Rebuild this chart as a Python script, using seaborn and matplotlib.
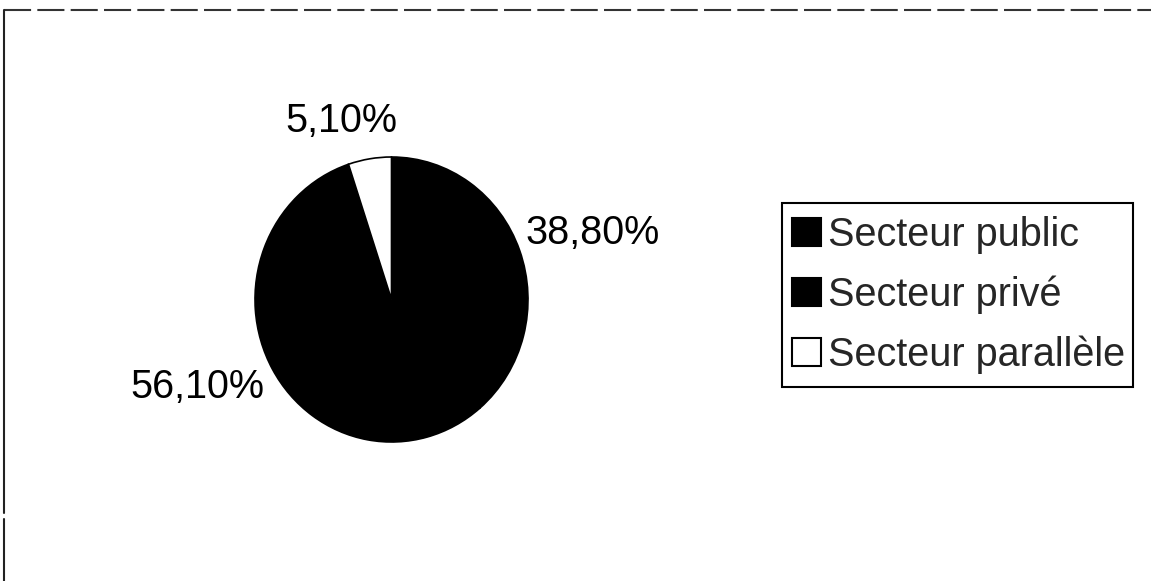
import matplotlib
matplotlib.use("Agg")
import matplotlib.pyplot as plt
from matplotlib.lines import Line2D
from matplotlib.patches import Rectangle
import seaborn as sns

# Répartition par secteur (%)
secteurs = ["Secteur public", "Secteur privé", "Secteur parallèle"]
parts = [38.8, 56.1, 5.1]
etiquettes = ["38,80%", "56,10%", "5,10%"]
couleurs = ["#000000", "#000000", "#ffffff"]

sns.set_theme(style="white")
plt.rcParams["font.family"] = ["Liberation Sans", "DejaVu Sans"]

W, H = 1151, 581
fig = plt.figure(figsize=(W / 100, H / 100), dpi=100)
fig.patch.set_facecolor("white")

# Pie axes placed in pixel units
cx, cy, rx, ry = 391.5, 299.5, 136.5, 142.5
ax = fig.add_axes([(cx - rx) / W, 1 - (cy + ry) / H, 2 * rx / W, 2 * ry / H])

wedges, _ = ax.pie(
    parts,
    colors=couleurs,
    startangle=90,
    counterclock=False,
    wedgeprops=dict(edgecolor="black", linewidth=1.2),
)
ax.set_xlim(-1, 1)
ax.set_ylim(-1, 1)
ax.set_aspect("auto")
ax.axis("off")

# Percentage labels around the pie (pixel positions)
label_pos = [(593, 233), (197, 387), (341, 121)]
for txt, (px, py) in zip(etiquettes, label_pos):
    ax.text((px - cx) / rx, (cy - py) / ry, txt, ha="center", va="center",
            fontsize=28.5, color="black", clip_on=False)

# Legend entries
handles = [Rectangle((0, 0), 1, 1, facecolor=c, edgecolor="black", linewidth=1.5)
           for c in couleurs]
leg = fig.legend(
    handles, secteurs,
    loc="center left",
    bbox_to_anchor=(792 / W, 1 - 295 / H),
    fontsize=28.5,
    frameon=False,
    handlelength=0.72,
    handleheight=0.72,
    handletextpad=0.2,
    labelspacing=0.54,
    borderpad=0,
    borderaxespad=0,
)

# Legend box
fig.add_artist(Rectangle((782 / W, 1 - 387 / H), (1133 - 782) / W, (387 - 203) / H,
                         transform=fig.transFigure, fill=False,
                         edgecolor="black", linewidth=1.5))

# Outer frame: dashed top edge and solid left edge
fig.add_artist(Line2D([4 / W, 1], [1 - 10 / H, 1 - 10 / H], color="#333333",
                      linewidth=1.5, linestyle=(0, (13, 3))))
fig.add_artist(Line2D([4 / W, 4 / W], [1 - 10 / H, 1 - 513 / H], color="#222222",
                      linewidth=1.5))
fig.add_artist(Line2D([3.5 / W, 3.5 / W], [1 - 519 / H, 0], color="#222222",
                      linewidth=1.5))

fig.savefig("out.png", dpi=100, facecolor="white")
